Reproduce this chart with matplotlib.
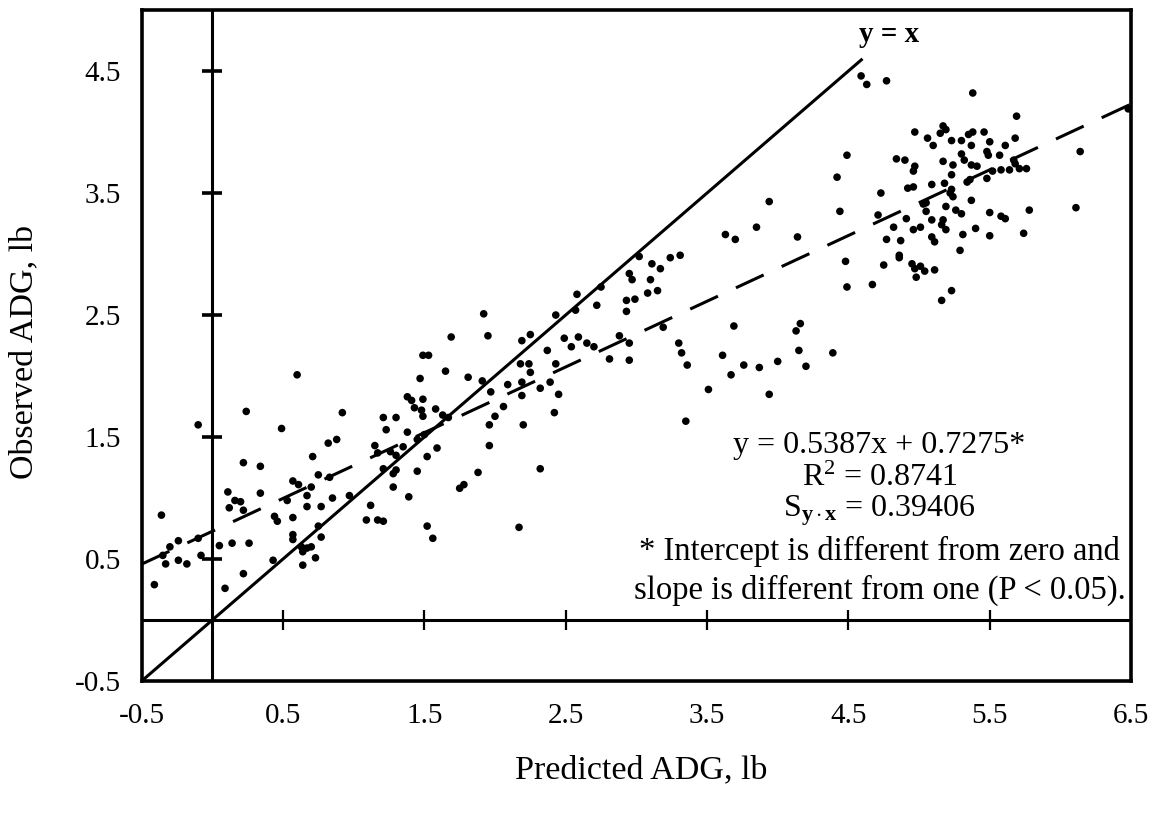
import numpy as np
import matplotlib
matplotlib.use("Agg")
import matplotlib.pyplot as plt

plt.rcParams['font.family'] = ['Liberation Serif', 'DejaVu Serif']
plt.rcParams['mathtext.fontset'] = 'custom'
plt.rcParams['mathtext.rm'] = 'Liberation Serif'
plt.rcParams['mathtext.it'] = 'Liberation Serif:italic'
plt.rcParams['mathtext.bf'] = 'Liberation Serif:bold'

# predicted vs observed ADG, lb
pred_adg = [
    -0.10, 0.49, 0.82, 0.88, 1.15, 0.71, 0.22, 0.34, 0.75, 0.83, 0.57, 0.61, 0.70, 0.11, 0.16, 0.20,
    0.12, 0.22, 0.34, 0.53, 0.67, 0.67, 0.77, 0.85, 0.97, 0.44, 0.46, 0.57, -0.36, 1.12, 1.09, 1.17,
    0.75, 0.77, 0.57, 0.57, 0.63, 0.67, 0.70, 0.64, 0.73, 0.64, 0.43, 0.22, 0.09, 0.05, 0.14, 0.26,
    -0.30, -0.24, -0.10, -0.35, -0.33, -0.24, -0.18, -0.08, -0.41,
    1.69, 1.49, 1.53, 1.65, 1.47, 1.81, 0.60, 0.24, 0.92, 1.38, 1.41, 1.49, 1.43, 1.48, 1.58, 1.49,
    1.63, 1.67, 1.21, 1.30, 1.23, 1.38, 1.17, 1.26, 1.30, 1.35, 1.45, 1.50, 1.59, 1.52, 1.21, 1.30,
    1.28, 1.45, 1.88, 1.28, 1.39, 1.78, 1.75, 1.52, 1.56, 1.21,
    3.94, 3.63, 3.70, 3.85, 4.14, 3.02, 3.11, 3.17, 3.24, 3.31, 2.95, 2.97, 3.10, 2.75, 3.08, 3.15,
    2.58, 2.93, 2.99, 2.72, 2.57, 2.93, 1.92, 2.43, 3.69, 4.13, 3.19, 1.95, 2.19, 2.25, 2.49, 2.59,
    2.54, 2.65, 2.70, 2.37, 2.88, 2.95, 2.81, 2.95, 3.30, 3.32, 3.36, 3.61, 3.76, 3.87, 4.00, 4.15,
    3.67, 3.51, 3.94, 3.35, 1.91, 2.18, 2.24, 2.43, 2.25, 2.19, 2.32, 2.39, 2.45, 2.19, 2.09, 1.97,
    2.06, 2.00, 1.96, 2.20, 2.42, 1.96, 2.32, 2.17,
    4.16, 4.39, 4.20, 4.59, 4.63, 4.77, 5.38, 5.69, 6.48, 6.14, 6.11, 4.49, 4.42, 4.73, 4.44, 4.71,
    4.48, 4.49, 4.67,
    4.97, 5.06, 5.10, 5.17, 5.19, 5.15, 5.23, 5.30, 5.37, 5.35, 5.38, 5.46, 5.50, 5.61, 5.68, 5.30,
    5.48, 5.49, 5.57, 4.84, 4.90, 5.17, 5.24, 5.32, 5.37, 5.41, 4.97, 4.96, 5.67, 5.68, 5.64, 5.71,
    5.76, 5.58, 5.48, 5.52, 5.23, 5.34, 5.36, 5.09, 5.18, 4.92, 4.96, 5.23, 5.22, 5.24, 5.37, 5.05,
    5.03, 5.19, 5.26, 5.30, 5.50, 5.58, 5.61, 5.78, 5.05, 4.91, 4.82, 5.09, 5.17, 5.16, 5.19, 4.96,
    5.01, 5.09, 5.11, 5.31, 5.40, 5.50, 5.74, 4.77, 4.87, 4.86, 4.86, 4.75, 4.95, 4.97, 5.01, 4.98,
    5.04, 5.11, 5.29, 5.23, 5.16,
]
obs_adg = [
    1.60, 1.57, 1.45, 1.48, 1.43, 1.34, 1.29, 1.26, 1.19, 1.17, 1.14, 1.11, 1.09, 1.05, 0.98, 0.97,
    0.92, 0.90, 1.04, 0.98, 1.02, 0.93, 0.93, 1.00, 1.02, 0.85, 0.81, 0.84, 0.86, 0.94, 0.82, 0.82,
    0.77, 0.68, 0.70, 0.66, 0.60, 0.59, 0.60, 0.56, 0.51, 0.45, 0.49, 0.38, 0.26, 0.61, 0.63, 0.63,
    0.60, 0.65, 0.67, 0.53, 0.46, 0.49, 0.46, 0.53, 0.29,
    2.32, 2.17, 2.17, 2.04, 1.98, 1.99, 2.01, 1.71, 1.70, 1.83, 1.80, 1.81, 1.74, 1.72, 1.73, 1.67,
    1.68, 1.66, 1.66, 1.66, 1.56, 1.54, 1.37, 1.38, 1.35, 1.42, 1.48, 1.52, 1.41, 1.34, 1.24, 1.23,
    1.20, 1.22, 1.21, 1.09, 1.01, 1.11, 1.08, 0.77, 0.67, 0.81,
    3.43, 3.16, 3.12, 3.22, 3.14, 2.98, 2.92, 2.88, 2.97, 2.99, 2.84, 2.79, 2.79, 2.73, 2.68, 2.70,
    2.67, 2.62, 2.63, 2.58, 2.54, 2.53, 2.51, 2.50, 2.41, 2.37, 2.40, 2.33, 2.29, 2.34, 2.31, 2.32,
    2.24, 2.27, 2.24, 2.21, 2.33, 2.27, 2.14, 2.13, 2.27, 2.19, 2.09, 2.17, 2.09, 2.07, 2.12, 2.21,
    2.01, 1.89, 1.85, 1.63, 1.96, 2.10, 2.10, 2.10, 2.03, 1.95, 1.90, 1.95, 1.85, 1.84, 1.93, 1.87,
    1.75, 1.67, 1.60, 1.60, 1.70, 1.43, 1.24, 0.76,
    2.43, 2.19, 2.08, 4.46, 4.39, 4.42, 4.32, 4.13, 4.19, 3.84, 3.38, 3.81, 3.63, 3.50, 3.35, 3.32,
    2.94, 2.73, 2.75,
    4.00, 3.95, 3.89, 4.05, 4.02, 3.99, 3.93, 3.93, 3.89, 3.98, 4.00, 4.00, 3.92, 3.89, 3.95, 3.82,
    3.84, 3.81, 3.81, 3.78, 3.77, 3.76, 3.73, 3.77, 3.73, 3.72, 3.72, 3.68, 3.77, 3.74, 3.69, 3.70,
    3.70, 3.69, 3.62, 3.68, 3.65, 3.59, 3.61, 3.57, 3.58, 3.54, 3.55, 3.53, 3.50, 3.47, 3.44, 3.42,
    3.41, 3.39, 3.36, 3.33, 3.34, 3.31, 3.29, 3.36, 3.35, 3.29, 3.22, 3.28, 3.28, 3.24, 3.20, 3.20,
    3.22, 3.14, 3.10, 3.16, 3.21, 3.15, 3.17, 3.12, 3.11, 2.99, 2.97, 2.91, 2.92, 2.88, 2.90, 2.81,
    2.86, 2.87, 3.03, 2.70, 2.62,
]

slope = 0.5387
intercept = 0.7275
fit_range = [-0.5, 6.5]
identity_range = [-0.5, 4.6]

x_ticks = [-0.5, 0.5, 1.5, 2.5, 3.5, 4.5, 5.5, 6.5]
y_ticks = [-0.5, 0.5, 1.5, 2.5, 3.5, 4.5]

fig = plt.figure(figsize=(11.59, 8.16), dpi=100)
ax = fig.add_axes([0.1222, 0.1654, 0.8537, 0.8223])
ax.set_xlim(-0.5, 6.5)
ax.set_ylim(-0.5, 5.0)

for sp in ax.spines.values():
    sp.set_linewidth(2.6)
    sp.set_color('black')

# inner axes through the origin with crossing tick marks
ax.axhline(0, color='black', lw=2.2, zorder=2)
ax.axvline(0, color='black', lw=2.2, zorder=2)
inner_x = [t for t in x_ticks if -0.5 < t < 6.5]
inner_y = [t for t in y_ticks if t > -0.5]
ax.plot(inner_x, np.zeros(len(inner_x)), ls='none', marker='|', ms=14, mew=1.6, color='black')
ax.plot(np.zeros(len(inner_y)), inner_y, ls='none', marker='_', ms=15, mew=2.6, color='black')

# identity and fitted regression lines
ax.plot(identity_range, identity_range, color='black', lw=2.2, solid_capstyle='butt')
fx = np.array(fit_range)
ax.plot(fx, slope * fx + intercept, color='black', lw=2.2, dashes=(10, 6.5))

ax.scatter(pred_adg, obs_adg, s=30, color='black', edgecolors='none', zorder=3, clip_on=False)

ax.set_xticks(x_ticks)
ax.set_yticks(y_ticks)
ax.set_xticklabels([str(t) for t in x_ticks])
ax.set_yticklabels([str(t) for t in y_ticks])
ax.tick_params(length=0, labelsize=21)
ax.tick_params(axis='x', pad=16)
ax.tick_params(axis='y', pad=15)

ax.set_xlabel("Predicted ADG, lb", fontsize=24.5)
ax.set_ylabel("Observed ADG, lb", fontsize=24.5)
ax.xaxis.set_label_coords(0.505, -0.11)
ax.yaxis.set_label_coords(-0.103, 0.49)

ax.text(4.79, 4.80, "y = x", fontsize=21, fontweight='bold', ha='center', va='center')
ax.text(4.72, 1.43, "y = 0.5387x + 0.7275*", fontsize=23, ha='center', va='center')
ax.text(4.72, 1.16, r"R$^{2}$ = 0.8741", fontsize=23, ha='center', va='center')
ax.text(4.72, 0.90, r"S$_{\mathbf{y\cdot x}}$ = 0.39406", fontsize=23, ha='center', va='center')
ax.text(4.72, 0.56, "* Intercept is different from zero and", fontsize=23.5, ha='center', va='center')
ax.text(4.72, 0.24, "slope is different from one (P < 0.05).", fontsize=23.5, ha='center', va='center')

plt.savefig("out.png", dpi=100)
